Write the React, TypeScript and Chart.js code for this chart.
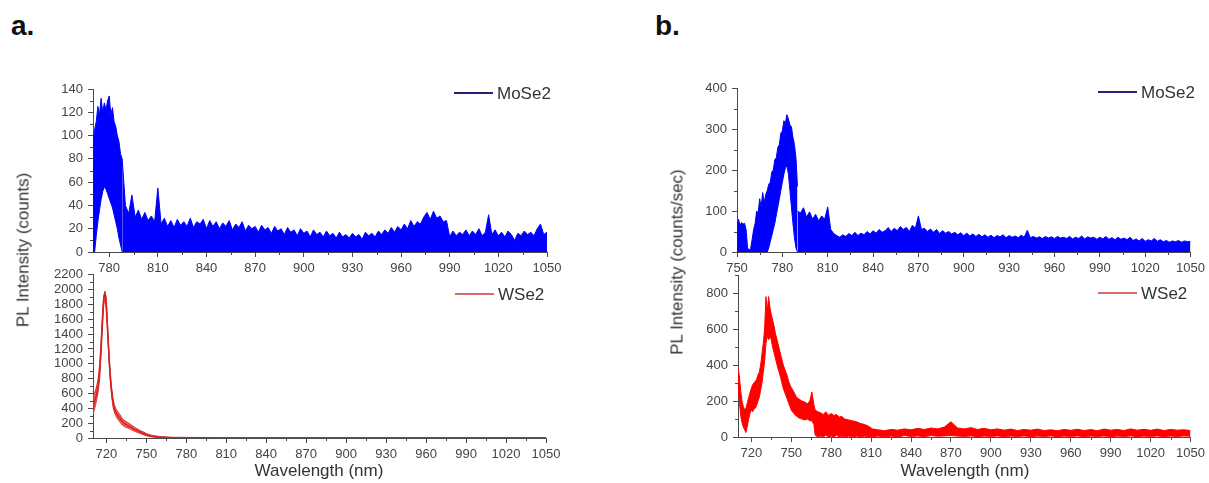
import React, { useEffect, useRef } from 'react';
import { Chart, registerables } from 'chart.js';

Chart.register(...registerables);

const FONT = '"Liberation Sans", Arial, sans-serif';
const AXIS = '#4a4a4a';
const TICK_TEXT = '#444';
const BLUE = '#0000ff';
const RED = '#ff0000';

// ---------- Panel a (top): MoSe2, counts ----------
// peak region (band between upper and lower envelope)
const moA_peakX = [770, 771, 772, 773, 774, 775, 776, 777, 778, 779, 780, 781, 782, 783, 784, 785, 786, 787, 788];
const moA_peakHi = [95, 105, 112, 125, 118, 132, 120, 128, 122, 130, 134, 118, 124, 112, 108, 100, 95, 84, 80];
const moA_peakLo = [0, 0, 14, 26, 36, 45, 52, 56, 54, 50, 46, 42, 38, 32, 26, 20, 12, 6, 0];
// tail (upper envelope, filled down to zero)
const moA_tailX = [
  788, 790, 792, 794, 796, 798, 800, 802, 804, 806,
  808, 810, 812, 814, 816, 818, 820, 822, 824, 826,
  828, 830, 832, 834, 836, 838, 840, 842, 844, 846,
  848, 850, 852, 854, 856, 858, 860, 862, 864, 866,
  868, 870, 872, 874, 876, 878, 880, 882, 884, 886,
  888, 890, 892, 894, 896, 898, 900, 902, 904, 906,
  908, 910, 912, 914, 916, 918, 920, 922, 924, 926,
  928, 930, 932, 934, 936, 938, 940, 942, 944, 946,
  948, 950, 952, 954, 956, 958, 960, 962, 964, 966,
  968, 970, 972, 974, 976, 978, 980, 982, 984, 986,
  988, 990, 992, 994, 996, 998, 1000, 1002, 1004, 1006,
  1008, 1010, 1012, 1014, 1016, 1018, 1020, 1022, 1024, 1026,
  1028, 1030, 1032, 1034, 1036, 1038, 1040, 1042, 1044, 1046,
  1048, 1050,
];
const moA_tailHi = [
  80, 40, 33, 49, 30, 36, 28, 34, 27, 31,
  26, 55, 24, 29, 22, 27, 21, 28, 23, 26,
  22, 29, 21, 26, 24, 28, 20, 27, 22, 26,
  20, 25, 22, 27, 19, 24, 21, 26, 18, 23,
  20, 22, 17, 23, 19, 21, 16, 22, 18, 20,
  15, 21, 17, 19, 14, 20, 16, 18, 13, 19,
  15, 17, 13, 18, 14, 16, 12, 17, 13, 15,
  12, 16, 13, 15, 11, 17, 14, 16, 13, 18,
  15, 19, 16, 21, 17, 22, 19, 24, 20, 27,
  22, 26, 24, 30, 34, 28, 35, 29, 31, 26,
  27, 13, 18, 14, 17, 15, 19, 14, 18, 15,
  20, 14, 17, 32, 15, 19, 14, 17, 13, 18,
  15, 10, 16, 14, 18, 15, 17, 14, 20, 24,
  15, 17,
];

// ---------- Panel a (bottom): WSe2, counts ----------
const wsA_x = [
  710, 711, 712, 713, 714, 715, 716, 717, 718, 719,
  720, 721, 722, 723, 724, 725, 726, 727, 728, 730,
  732, 734, 736, 738, 740, 742, 745, 748, 750, 753,
  756, 760, 765, 770, 780, 800, 850, 900, 950, 1000,
  1050,
];
const wsA_core = [
  420, 480, 540, 620, 720, 900, 1200, 1550, 1850, 1950,
  1800, 1450, 1100, 820, 620, 480, 400, 350, 320, 270,
  220, 190, 170, 150, 130, 110, 85, 60, 45, 30,
  20, 12, 8, 5, 4, 3, 3, 3, 3, 3,
  3,
];
const wsA_hi = [
  560, 600, 650, 720, 820, 1000, 1300, 1650, 1920, 1980,
  1870, 1520, 1180, 880, 680, 540, 450, 400, 370, 320,
  260, 230, 210, 185, 160, 135, 105, 80, 60, 42,
  30, 20, 14, 10, 8, 7, 7, 7, 7, 7,
  7,
];
const wsA_lo = [
  320, 380, 450, 540, 640, 800, 1100, 1450, 1780, 1880,
  1700, 1380, 1020, 760, 560, 420, 350, 300, 270, 220,
  175, 150, 135, 120, 100, 85, 65, 42, 30, 18,
  10, 5, 2, 1, 0, 0, 0, 0, 0, 0,
  0,
];

// ---------- Panel b (top): MoSe2, counts/sec ----------
const moB_peakX = [
  750, 751, 752, 753, 754, 755, 756, 757, 758, 759,
  760, 761, 762, 763, 764, 765, 766, 767, 768, 769,
  770, 771, 772, 773, 774, 775, 776, 777, 778, 779,
  780, 781, 782, 783, 784, 785, 786, 787, 788, 789,
  790,
];
const moB_peakHi = [
  60, 80, 65, 72, 68, 70, 55, 10, 5, 8,
  30, 55, 70, 100, 95, 130, 110, 145, 120, 140,
  150, 165, 170, 195, 200, 225, 230, 255, 262, 290,
  295, 320, 315, 335, 325, 310, 305, 280, 262, 230,
  160,
];
const moB_peakLo = [
  0, 0, 0, 0, 0, 0, 0, 0, 0, 0,
  0, 0, 0, 0, 0, 0, 0, 0, 0, 0,
  0, 10, 25, 40, 55, 70, 90, 110, 130, 150,
  170, 190, 205, 210, 190, 150, 110, 70, 35, 10,
  0,
];
const moB_tailX = [
  790, 792, 794, 796, 798, 800, 802, 804, 806, 808,
  810, 812, 814, 816, 818, 820, 822, 824, 826, 828,
  830, 832, 834, 836, 838, 840, 842, 844, 846, 848,
  850, 852, 854, 856, 858, 860, 862, 864, 866, 868,
  870, 872, 874, 876, 878, 880, 882, 884, 886, 888,
  890, 892, 894, 896, 898, 900, 902, 904, 906, 908,
  910, 912, 914, 916, 918, 920, 922, 924, 926, 928,
  930, 932, 934, 936, 938, 940, 942, 944, 946, 948,
  950, 952, 954, 956, 958, 960, 962, 964, 966, 968,
  970, 972, 974, 976, 978, 980, 982, 984, 986, 988,
  990, 992, 994, 996, 998, 1000, 1002, 1004, 1006, 1008,
  1010, 1012, 1014, 1016, 1018, 1020, 1022, 1024, 1026, 1028,
  1030, 1032, 1034, 1036, 1038, 1040, 1042, 1044, 1046, 1048,
  1050,
];
const moB_tailHi = [
  100, 95, 108, 85, 98, 80, 92, 76, 88, 80,
  110, 55, 45, 40, 36, 42, 38, 45, 40, 48,
  40, 46, 42, 50, 44, 52, 46, 55, 48, 52,
  60, 50, 58, 52, 62, 55, 60, 50, 65, 58,
  88, 55, 58, 50, 56, 48, 55, 45, 52, 46,
  50, 44, 48, 42, 47, 40, 46, 39, 44, 38,
  43, 37, 42, 36, 41, 35, 40, 37, 42, 35,
  40, 36, 39, 35, 41, 36, 53, 35, 38, 34,
  37, 33, 38, 34, 37, 33, 38, 34, 36, 33,
  38, 32, 36, 33, 39, 32, 37, 34, 36, 31,
  36, 32, 38, 31, 35, 30, 36, 31, 34, 30,
  36, 28, 32, 27, 33, 26, 30, 27, 33, 26,
  30, 25, 28, 24, 27, 25, 28, 24, 27, 25,
  26,
];

// ---------- Panel b (bottom): WSe2, counts/sec ----------
const wsB_x = [
  710, 711, 712, 713, 714, 715, 716, 717, 718, 719,
  720, 721, 722, 723, 724, 725, 726, 727, 728, 729,
  730, 731, 732, 733, 734, 735, 736, 737, 738, 739,
  740, 741, 742, 743, 744, 745, 746, 747, 748, 749,
  750, 752, 754, 756, 758, 760, 762, 764, 765.5, 767,
  768, 770, 772, 774, 776, 778, 780, 782, 784, 786,
  788, 790, 793, 796, 799, 802, 805, 808, 811, 815,
  820, 825, 830, 835, 840, 845, 850, 855, 860, 865,
  870, 875, 880, 885, 890, 895, 900, 905, 910, 915,
  920, 925, 930, 935, 940, 945, 950, 955, 960, 965,
  970, 975, 980, 985, 990, 995, 1000, 1005, 1010, 1015,
  1020, 1025, 1030, 1035, 1040, 1045, 1050,
];
const wsB_hi = [
  380, 340, 260, 200, 170, 150, 160, 190, 220, 245,
  270, 290, 300, 310, 320, 345, 360, 400, 460, 520,
  600, 780, 700, 780, 720, 680, 650, 620, 580, 550,
  520, 490, 460, 430, 400, 380, 360, 340, 310, 290,
  275, 250, 220, 210, 200, 195, 185, 200, 250, 180,
  150, 140, 135, 125, 140, 120, 130, 120, 125, 110,
  115, 100, 95, 90, 85, 75, 70, 60, 45, 40,
  35, 42, 38, 45, 40, 48, 42, 50, 45, 55,
  85, 50, 45, 52, 42, 48, 40, 45, 38, 44,
  36, 42, 38, 44, 36, 40, 35, 42, 37, 43,
  36, 41, 35, 44, 38, 42, 36, 45, 38, 43,
  37, 44, 36, 42, 38, 40, 36,
];
const wsB_lo = [
  280, 200, 120, 80, 55, 40, 25, 60, 100, 130,
  150, 140, 155, 160, 175, 200, 220, 260, 300, 360,
  420, 520, 560, 540, 560, 540, 500, 470, 440, 410,
  380, 360, 330, 300, 270, 250, 230, 210, 190, 170,
  150, 130, 115, 105, 100, 95, 100, 90, 90, 70,
  10, 0, 5, 0, 10, 0, 5, 0, 10, 0,
  5, 0, 5, 0, 5, 0, 5, 0, 0, 5,
  0, 5, 0, 8, 3, 6, 2, 8, 4, 6,
  8, 5, 3, 6, 2, 5, 3, 6, 2, 5,
  3, 6, 2, 5, 3, 6, 2, 5, 3, 6,
  2, 5, 3, 6, 2, 5, 3, 6, 2, 5,
  3, 6, 2, 5, 3, 6, 4,
];

// ---------- Tick labels ----------
const xTicksATop = [780, 810, 840, 870, 900, 930, 960, 990, 1020, 1050];
const xMinorATop = [795, 825, 855, 885, 915, 945, 975, 1005, 1035];
const yTicksATop = [0, 20, 40, 60, 80, 100, 120, 140];
const yMinorATop = [10, 30, 50, 70, 90, 110, 130];

const xTicksABot = [720, 750, 780, 810, 840, 870, 900, 930, 960, 990, 1020, 1050];
const xMinorABot = [735, 765, 795, 825, 855, 885, 915, 945, 975, 1005, 1035];
const yTicksABot = [0, 200, 400, 600, 800, 1000, 1200, 1400, 1600, 1800, 2000, 2200];
const yMinorABot = [100, 300, 500, 700, 900, 1100, 1300, 1500, 1700, 1900, 2100];

const xTicksBTop = [750, 780, 810, 840, 870, 900, 930, 960, 990, 1020, 1050];
const xMinorBTop = [765, 795, 825, 855, 885, 915, 945, 975, 1005, 1035];
const yTicksBTop = [0, 100, 200, 300, 400];
const yMinorBTop = [50, 150, 250, 350];

const xTicksBBot = [720, 750, 780, 810, 840, 870, 900, 930, 960, 990, 1020, 1050];
const xMinorBBot = [735, 765, 795, 825, 855, 885, 915, 945, 975, 1005, 1035];
const yTicksBBot = [0, 200, 400, 600, 800];
const yMinorBBot = [100, 300, 500, 700, 900];

const pts = (xs: number[], ys: number[]) => xs.map((x, i) => ({ x, y: ys[i] }));

const minorTicksPlugin = {
  id: 'minorTicks',
  afterDraw(chart: any, _args: any, opts: any) {
    const { ctx, chartArea } = chart;
    const xs = chart.scales.x;
    const ys = chart.scales.y;
    ctx.save();
    ctx.strokeStyle = AXIS;
    ctx.lineWidth = 1;
    (opts.x || []).forEach((v: number) => {
      const px = Math.round(xs.getPixelForValue(v)) + 0.5;
      ctx.beginPath();
      ctx.moveTo(px, chartArea.bottom);
      ctx.lineTo(px, chartArea.bottom + 3);
      ctx.stroke();
    });
    (opts.y || []).forEach((v: number) => {
      const py = Math.round(ys.getPixelForValue(v)) + 0.5;
      ctx.beginPath();
      ctx.moveTo(chartArea.left, py);
      ctx.lineTo(chartArea.left - 3, py);
      ctx.stroke();
    });
    ctx.restore();
  },
};

type PanelCfg = {
  left: number; top: number; w: number; h: number;
  yW: number; xH: number; padTop: number; padRight: number;
  xMin: number; xMax: number; yMin: number; yMax: number;
  xTicks: number[]; yTicks: number[]; xMinor: number[]; yMinor: number[];
  datasets: any[];
};

function band(xs: number[], hi: number[], lo: number[], fillColor: string, lineColor: string) {
  return [
    {
      data: pts(xs, hi), borderColor: lineColor, backgroundColor: fillColor,
      borderWidth: 1, pointRadius: 0, fill: '+1', tension: 0,
    },
    {
      data: pts(xs, lo), borderColor: lineColor, backgroundColor: fillColor,
      borderWidth: 1, pointRadius: 0, fill: false, tension: 0,
    },
  ];
}

function tail(xs: number[], hi: number[], color: string) {
  return {
    data: pts(xs, hi), borderColor: color, backgroundColor: color,
    borderWidth: 1, pointRadius: 0, fill: 'origin', tension: 0,
  };
}

function Panel({ cfg }: { cfg: PanelCfg }) {
  const ref = useRef<HTMLCanvasElement>(null);
  useEffect(() => {
    const chart = new Chart(ref.current as HTMLCanvasElement, {
      type: 'line',
      data: { datasets: cfg.datasets },
      plugins: [minorTicksPlugin],
      options: {
        responsive: false,
        devicePixelRatio: 1,
        animation: false,
        layout: { padding: { left: 0, top: cfg.padTop, right: cfg.padRight, bottom: 0 } },
        plugins: {
          legend: { display: false },
          tooltip: { enabled: false },
          minorTicks: { x: cfg.xMinor, y: cfg.yMinor },
        } as any,
        scales: {
          x: {
            type: 'linear',
            min: cfg.xMin,
            max: cfg.xMax,
            afterBuildTicks: (s: any) => { s.ticks = cfg.xTicks.map((v) => ({ value: v })); },
            afterFit: (s: any) => { s.height = cfg.xH; },
            ticks: {
              autoSkip: false, maxRotation: 0, minRotation: 0, padding: 4,
              color: TICK_TEXT, font: { family: FONT, size: 13 },
              callback: (v: any) => String(v),
            },
            grid: { drawOnChartArea: false, drawTicks: true, tickLength: 5, color: AXIS },
            border: { display: true, color: AXIS, width: 1 },
          },
          y: {
            type: 'linear',
            min: cfg.yMin,
            max: cfg.yMax,
            afterBuildTicks: (s: any) => { s.ticks = cfg.yTicks.map((v) => ({ value: v })); },
            afterFit: (s: any) => { s.width = cfg.yW; },
            ticks: {
              autoSkip: false, padding: 5,
              color: TICK_TEXT, font: { family: FONT, size: 13 },
              callback: (v: any) => String(v),
            },
            grid: { drawOnChartArea: false, drawTicks: true, tickLength: 5, color: AXIS },
            border: { display: true, color: AXIS, width: 1 },
          },
        },
      } as any,
    });
    return () => chart.destroy();
  }, []);
  return (
    <canvas
      ref={ref}
      width={cfg.w}
      height={cfg.h}
      style={{ position: 'absolute', left: cfg.left, top: cfg.top, width: cfg.w, height: cfg.h }}
    />
  );
}

const panels: PanelCfg[] = [
  {
    left: 20, top: 70, w: 560, h: 210, yW: 73, xH: 28, padTop: 19, padRight: 33,
    xMin: 770, xMax: 1050, yMin: 0, yMax: 140,
    xTicks: xTicksATop, yTicks: yTicksATop, xMinor: xMinorATop, yMinor: yMinorATop,
    datasets: [...band(moA_peakX, moA_peakHi, moA_peakLo, BLUE, BLUE), tail(moA_tailX, moA_tailHi, BLUE)],
  },
  {
    left: 20, top: 262, w: 560, h: 221, yW: 73, xH: 45, padTop: 12, padRight: 34,
    xMin: 710, xMax: 1050, yMin: 0, yMax: 2200,
    xTicks: xTicksABot, yTicks: yTicksABot, xMinor: xMinorABot, yMinor: yMinorABot,
    datasets: [
      ...band(wsA_x, wsA_hi, wsA_lo, 'rgba(240,40,40,0.75)', 'rgba(230,30,30,0.9)'),
      {
        data: pts(wsA_x, wsA_core), borderColor: '#4a0e0e', borderWidth: 1.3,
        pointRadius: 0, fill: false, tension: 0.2,
      },
    ],
  },
  {
    left: 640, top: 70, w: 569, h: 210, yW: 97, xH: 28, padTop: 18, padRight: 17,
    xMin: 750, xMax: 1050, yMin: 0, yMax: 400,
    xTicks: xTicksBTop, yTicks: yTicksBTop, xMinor: xMinorBTop, yMinor: yMinorBTop,
    datasets: [...band(moB_peakX, moB_peakHi, moB_peakLo, BLUE, BLUE), tail(moB_tailX, moB_tailHi, BLUE)],
  },
  {
    left: 640, top: 262, w: 569, h: 221, yW: 98, xH: 46, padTop: 13, padRight: 18,
    xMin: 710, xMax: 1050, yMin: 0, yMax: 900,
    xTicks: xTicksBBot, yTicks: yTicksBBot, xMinor: xMinorBBot, yMinor: yMinorBBot,
    datasets: band(wsB_x, wsB_hi, wsB_lo, RED, RED),
  },
];

const txt = (extra: React.CSSProperties): React.CSSProperties => ({
  position: 'absolute', fontFamily: FONT, color: '#333', whiteSpace: 'nowrap', lineHeight: 1, ...extra,
});

function Legend({ x, y, label, color }: { x: number; y: number; label: string; color: string }) {
  return (
    <>
      <div style={{ position: 'absolute', left: x, top: y - 1, width: 39, height: 2, background: color }} />
      <div style={txt({ left: x + 43, top: y, transform: 'translateY(-50%)', fontSize: 17 })}>{label}</div>
    </>
  );
}

export default function App() {
  return (
    <div style={{ position: 'fixed', left: 0, top: 0, width: 1209, height: 483, background: '#fff', overflow: 'hidden' }}>
      {panels.map((p, i) => <Panel key={i} cfg={p} />)}
      <div style={txt({ left: 11, top: 12, fontSize: 28, fontWeight: 'bold', color: '#111' })}>a.</div>
      <div style={txt({ left: 655, top: 12, fontSize: 28, fontWeight: 'bold', color: '#111' })}>b.</div>
      <div style={txt({ left: 23, top: 250, fontSize: 17, transform: 'translate(-50%, -50%) rotate(-90deg)' })}>PL Intensity (counts)</div>
      <div style={txt({ left: 677, top: 262, fontSize: 17, transform: 'translate(-50%, -50%) rotate(-90deg)' })}>PL Intensity (counts/sec)</div>
      <div style={txt({ left: 319, top: 470, fontSize: 17, transform: 'translate(-50%, -50%)' })}>Wavelength (nm)</div>
      <div style={txt({ left: 965, top: 470, fontSize: 17, transform: 'translate(-50%, -50%)' })}>Wavelength (nm)</div>
      <Legend x={454} y={93} label="MoSe2" color="#23237a" />
      <Legend x={455} y={294} label="WSe2" color="#d86a6a" />
      <Legend x={1098} y={92} label="MoSe2" color="#23237a" />
      <Legend x={1098} y={293} label="WSe2" color="#d86a6a" />
    </div>
  );
}
